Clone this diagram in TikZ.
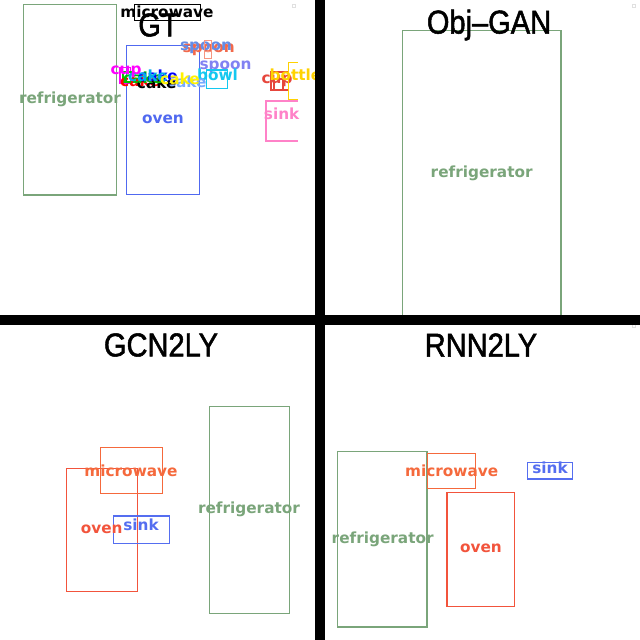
\documentclass[tikz,border=0pt]{standalone}
\usepackage{fontspec}
\newfontfamily\lblfont{DejaVu Sans}
\newfontfamily\ttlfont{Liberation Sans}[FakeBold=1.6]
\definecolor{cfridge}{RGB}{122,165,122}
\definecolor{coven}{RGB}{80,105,240}
\definecolor{cred}{RGB}{242,84,60}
\definecolor{cmicro}{RGB}{245,105,60}
\definecolor{csink}{RGB}{85,110,240}
\definecolor{cspoonA}{RGB}{100,140,230}
\definecolor{cspoonB}{RGB}{242,105,75}
\definecolor{cspoonC}{RGB}{130,130,242}
\definecolor{cbowl}{RGB}{20,200,240}
\definecolor{ccupA}{RGB}{255,0,255}
\definecolor{ccupB}{RGB}{230,70,60}
\definecolor{cbottle}{RGB}{255,210,0}
\definecolor{cpink}{RGB}{255,130,200}
\definecolor{clblue}{RGB}{120,170,255}
\begin{document}
\begin{tikzpicture}[x=1pt,y=-1pt,
  lbl/.style={font=\lblfont\bfseries\fontsize{15.3}{15.3}\selectfont, inner sep=0pt, anchor=center},
  ttl/.style={font=\ttlfont\fontsize{33}{33}\selectfont, inner sep=0pt, anchor=center, xscale=0.88},
  bx/.style={line width=1.2pt}]
\useasboundingbox (0,0) rectangle (640,640);
\fill[white] (0,0) rectangle (640,640);

% ===== GT panel =====
\draw[bx,cfridge] (23.5,4.5) rectangle (116.5,195);
\node[lbl,text=cfridge] (gtfridge) at (70,99) {refrigerator};
\draw[bx,coven] (126.5,45.5) rectangle (199.5,194.5);
\node[lbl,text=coven] (gtoven) at (163,119) {oven};
\draw[bx,black] (134.5,4.5) rectangle (200.5,20.5);
\node[lbl,text=black] (gtmicro) at (167,11.7) {microwave};
\node[ttl] (gtttl) at (158.5,25) {GT};

% spoons
\node[lbl,text=cspoonB] (sp2) at (208.7,50) {spoon};
\node[lbl,text=cspoonA] (sp1) at (206,48.3) {spoon};
\draw[bx,cspoonB!70] (204.5,40.5) rectangle (211.5,51.5);
\draw[bx,cspoonB!70] (204.5,51.5) rectangle (211.5,58.5);
\node[lbl,text=cspoonC] (sp3) at (225.5,66.7) {spoon};
\draw[bx,cbowl] (206.5,70) rectangle (227.5,88.5);
\node[lbl,text=cbowl] (bowl) at (217.5,75) {bowl};

% cup / cakes
\draw[bx,ccupA] (120,67.5) rectangle (130.5,83.5);
\draw[bx,green!80!black] (123,72) rectangle (133,82);
\node[lbl,text=red] (cake1) at (140,81) {cake};
\node[lbl,text=clblue] (cake7) at (186.7,81.7) {cake};
\node[lbl,text=black] (cake2) at (156.7,82.7) {cake};
\node[lbl,text=green!75!black] (cake3) at (143,78) {cake};
\node[lbl,text=blue] (cake5) at (158,76) {cake};
\node[lbl,text=cyan] (cake4) at (148,76) {cake};
\node[lbl,text=yellow] (cake6) at (180,79) {cake};
\node[lbl,text=ccupA] (cupA) at (126,71.7) {cup};

% right side
\draw[bx,ccupB] (271,72) rectangle (288.5,90);
\draw[bx,ccupB] (274,79) rectangle (283,90);
\node[lbl,text=ccupB] (cupB) at (277,80.5) {cup};
\draw[bx,cbottle] (297.5,62.5) -- (288.5,62.5) -- (288.5,99.5) -- (297.5,99.5);
\node[lbl,text=cbottle] (bottle) at (295.5,75) {bottle};
\draw[bx,cpink] (297.5,101) -- (266,101) -- (266,141) -- (297.5,141);
\node[lbl,text=cpink] (sinkgt) at (281.7,114) {sink};
\draw[line width=0.6pt,black!12] (292.5,4.5) rectangle (295.5,7.5);

% ===== Obj-GAN panel =====
\draw[bx,cfridge] (402.5,316) -- (402.5,30.5) -- (561,30.5) -- (561,316);
\node[lbl,text=cfridge] (ogfridge) at (481.7,173.7) {refrigerator};
\node[ttl] (ogttl) at (489,25) {Obj–GAN};
\draw[line width=0.6pt,black!12] (632,4.5) rectangle (635,7.5);

% ===== GCN2LY panel =====
\node[ttl] (gcnttl) at (161,345) {GCN2LY};
\draw[bx,cred] (66.5,468.5) rectangle (137.5,591.5);
\draw[bx,cmicro] (100.5,447.5) rectangle (162.5,493.5);
\draw[bx,csink] (113.5,516) rectangle (169.5,543.5);
\draw[bx,cfridge] (209.5,406.5) rectangle (289.5,613.5);
\node[lbl,text=cmicro] (gcnmicro) at (131,470.7) {microwave};
\node[lbl,text=cred] (gcnoven) at (101.7,529.3) {oven};
\node[lbl,text=csink] (gcnsink) at (141,524.3) {sink};
\node[lbl,text=cfridge] (gcnfridge) at (249,509.3) {refrigerator};

% ===== RNN2LY panel =====
\node[ttl] (rnnttl) at (481,345) {RNN2LY};
\draw[bx,cfridge] (337.5,451.5) rectangle (427,627);
\draw[bx,cmicro] (427.5,453.5) rectangle (475.5,488.5);
\draw[bx,cred] (447,492.5) rectangle (514.5,606.5);
\draw[bx,csink] (527.5,462.5) rectangle (572.5,479);
\node[lbl,text=cfridge] (rnnfridge) at (382.7,539) {refrigerator};
\node[lbl,text=cmicro] (rnnmicro) at (451.7,470.7) {microwave};
\node[lbl,text=cred] (rnnoven) at (481,548.7) {oven};
\node[lbl,text=csink] (rnnsink) at (550,467.7) {sink};
\draw[line width=0.6pt,black!12] (632,324.5) rectangle (635,327.5);

% ===== dividers =====
\fill[black] (315,0) rectangle (325,640);
\fill[black] (0,315) rectangle (640,325);
\end{tikzpicture}
\end{document}
